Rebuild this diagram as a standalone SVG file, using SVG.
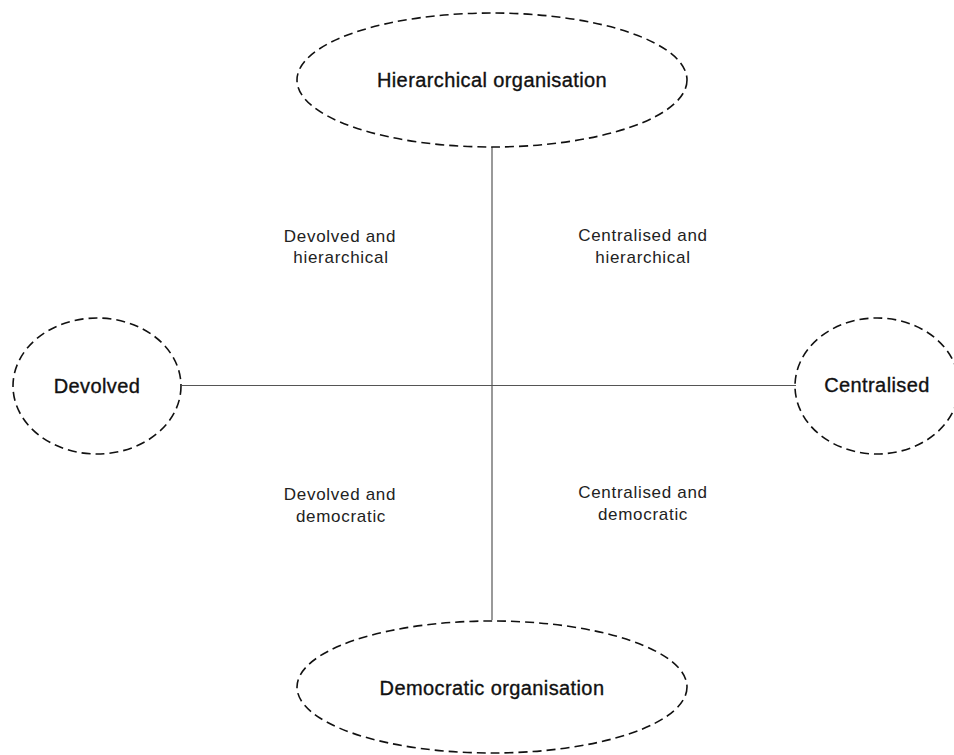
<svg xmlns="http://www.w3.org/2000/svg" width="954" height="755" viewBox="0 0 954 755">
<style>
.node ellipse{fill:none;stroke:#111;stroke-width:1.6;stroke-dasharray:9 5}
.title{font-family:"Liberation Sans",Arial,sans-serif;font-size:20px;letter-spacing:0.4px;fill:#111;stroke:#111;stroke-width:0.35;text-anchor:middle}
.lab{font-family:"Liberation Sans",Arial,sans-serif;font-size:17px;letter-spacing:0.7px;fill:#222;text-anchor:middle}
.conn line{stroke:#555;stroke-width:1.2}
</style>
<rect width="954" height="755" fill="#fff"/>
<g id="connectors" class="conn">
<line x1="492" y1="147" x2="492" y2="620"/>
<line x1="182" y1="385.5" x2="796" y2="385.5"/>
</g>
<g id="hierarchical" class="node">
<ellipse cx="492" cy="80" rx="195" ry="67"/>
<text class="title" x="492" y="87">Hierarchical organisation</text>
</g>
<g id="democratic" class="node">
<ellipse cx="492" cy="687" rx="195" ry="66"/>
<text class="title" x="492" y="695">Democratic organisation</text>
</g>
<g id="devolved" class="node">
<ellipse cx="97" cy="386" rx="84" ry="68"/>
<text class="title" x="97" y="393">Devolved</text>
</g>
<g id="centralised" class="node">
<ellipse cx="877" cy="386" rx="82" ry="68"/>
<text class="title" x="877" y="392">Centralised</text>
</g>
<g id="quadrant-labels">
<text class="lab" x="340" y="242">Devolved and</text>
<text class="lab" x="341" y="263">hierarchical</text>
<text class="lab" x="643" y="241">Centralised and</text>
<text class="lab" x="643" y="263">hierarchical</text>
<text class="lab" x="340" y="500">Devolved and</text>
<text class="lab" x="341" y="522">democratic</text>
<text class="lab" x="643" y="498">Centralised and</text>
<text class="lab" x="643" y="520">democratic</text>
</g>
</svg>
